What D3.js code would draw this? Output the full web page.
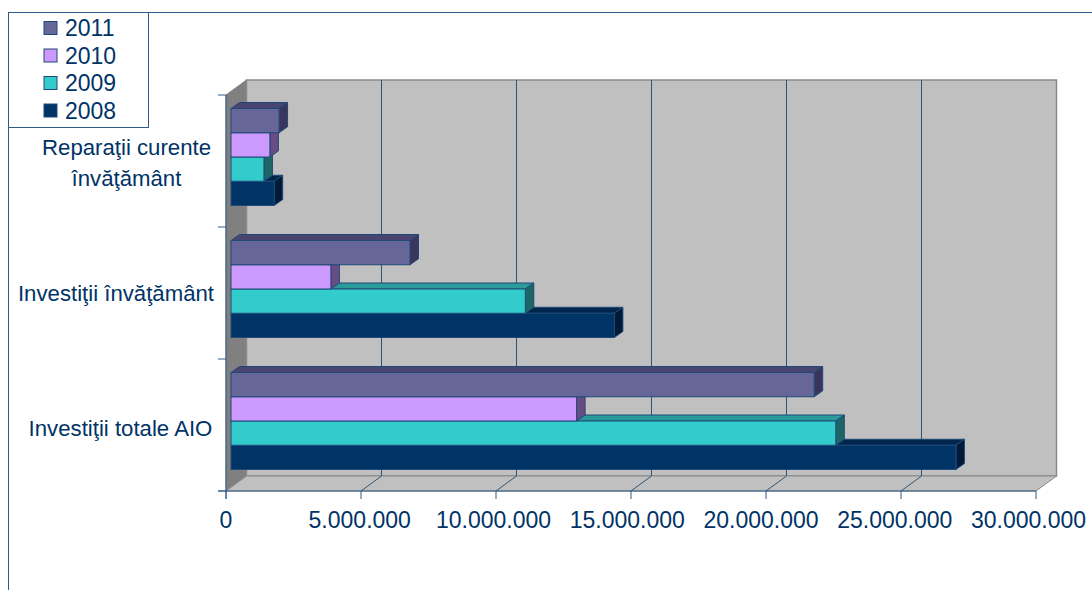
<!DOCTYPE html>
<html>
<head>
<meta charset="utf-8">
<script src="https://cdn.jsdelivr.net/npm/d3@7"></script>
<style>
html,body{margin:0;padding:0;background:#fff}
svg{display:block}
text{font-family:"Liberation Sans",Arial,sans-serif;fill:#003366}
</style>
</head>
<body>
<svg id="c" width="1092" height="590"></svg>
<script>
const categories = ["Reparaţii curente învăţământ", "Investiţii învăţământ", "Investiţii totale AIO"];
const seriesNames = ["2011", "2010", "2009", "2008"];
const seriesColors = ["#666699", "#cc99ff", "#33cccc", "#003366"];
const topColors = ["#4a4470", "#4f4a80", "#2a9a9a", "#00264d"];
const sideColors = ["#39355c", "#6a4c85", "#1d6666", "#001a38"];
const values2011 = [1780000, 6630000, 21600000];
const values2010 = [1440000, 3700000, 12800000];
const values2009 = [1220000, 10900000, 22400000];
const values2008 = [1600000, 14200000, 26850000];
const seriesValues = [values2011, values2010, values2009, values2008];
const xTicks = [0, 5000000, 10000000, 15000000, 20000000, 25000000, 30000000];
const tickLabels = ["0", "5.000.000", "10.000.000", "15.000.000", "20.000.000", "25.000.000", "30.000.000"];
const labelLines = [["Reparaţii curente", "învăţământ"], ["Investiţii învăţământ"], ["Investiţii totale AIO"]];

const svg = d3.select("#c");
const axisColor = "#2f5a86";
const x = d3.scaleLinear().domain([0, 30000000]).range([226, 1036]);
const xLabel = d3.scaleLinear().domain([0, 30000000]).range([226, 1028.5]);
const y = d3.scaleBand().domain(categories).range([95, 491]);
const inner = d3.scaleBand().domain(seriesNames).range([13.5, 110.5]);
const wallDx = 20.5, wallDy = -15;
const barX0 = 5, barDx = 8.5, barDy = -6;
const yTop = y.range()[0], yBottom = y.range()[1];
const poly = pts => pts.map(p => p.join(",")).join(" ");

// frame
svg.append("path").attr("d", "M1092,12.5H8.5V590").attr("fill", "none").attr("stroke", axisColor).attr("stroke-width", 1);

// walls
const x0 = x(0), x1 = x(30000000);
svg.append("polygon").attr("points", poly([[x0, yBottom], [x0 + wallDx, yBottom + wallDy], [x0 + wallDx, yTop + wallDy], [x0, yTop]]))
  .attr("fill", "#808080").attr("stroke", "#808080");
svg.append("polygon").attr("points", poly([[x0 + wallDx, yBottom + wallDy], [x1 + wallDx, yBottom + wallDy], [x1 + wallDx, yTop + wallDy], [x0 + wallDx, yTop + wallDy]]))
  .attr("fill", "#c0c0c0").attr("stroke", "#8a8a8a").attr("stroke-width", 1.5);
svg.append("polygon").attr("points", poly([[x0, yBottom], [x1, yBottom], [x1 + wallDx, yBottom + wallDy], [x0 + wallDx, yBottom + wallDy]]))
  .attr("fill", "#c0c0c0").attr("stroke", "#8a8a8a");

// gridlines on back wall and floor
xTicks.slice(1, -1).forEach(t => {
  const px = x(t);
  svg.append("path").attr("d", `M${px},${yBottom}L${px + wallDx},${yBottom + wallDy}V${yTop + wallDy}`)
    .attr("fill", "none").attr("stroke", "#2f5573").attr("stroke-width", 1);
});

// axes
svg.append("line").attr("x1", x0).attr("x2", x0).attr("y1", yTop).attr("y2", yBottom + 8).attr("stroke", axisColor);
svg.append("line").attr("x1", x0 - 8).attr("x2", x1).attr("y1", yBottom).attr("y2", yBottom).attr("stroke", axisColor);
xTicks.forEach(t => svg.append("line").attr("x1", x(t)).attr("x2", x(t)).attr("y1", yBottom).attr("y2", yBottom + 8).attr("stroke", axisColor));
[...categories.map(c => y(c)), yBottom].forEach(v => svg.append("line").attr("x1", x0 - 8).attr("x2", x0).attr("y1", v).attr("y2", v).attr("stroke", axisColor));

// tick labels
xTicks.forEach((t, i) => svg.append("text").attr("x", xLabel(t)).attr("y", 528).attr("text-anchor", "middle")
  .attr("font-size", 23).text(tickLabels[i]));

// bars: lower series first so upper ones overlap their top faces
categories.forEach((cat, ci) => {
  const g = svg.append("g");
  for (let si = seriesNames.length - 1; si >= 0; si--) {
    const v = seriesValues[si][ci];
    const a = x0 + barX0, b = x(v) + barX0;
    const t = y(cat) + inner(seriesNames[si]), h = inner.bandwidth();
    const stroke = "#1f4a78";
    g.append("polygon").attr("points", poly([[a, t], [b, t], [b + barDx, t + barDy], [a + barDx, t + barDy]]))
      .attr("fill", topColors[si]).attr("stroke", stroke);
    g.append("polygon").attr("points", poly([[b, t], [b + barDx, t + barDy], [b + barDx, t + h + barDy], [b, t + h]]))
      .attr("fill", sideColors[si]).attr("stroke", stroke);
    g.append("rect").attr("x", a).attr("y", t).attr("width", b - a).attr("height", h)
      .attr("fill", seriesColors[si]).attr("stroke", stroke);
  }
});

// category labels
const labelCenters = [126.5, 116, 120.5];
const labelY = [[155, 186], [301], [436]];
categories.forEach((c, i) => labelLines[i].forEach((line, j) =>
  svg.append("text").attr("x", labelCenters[i]).attr("y", labelY[i][j]).attr("text-anchor", "middle")
    .attr("font-size", 22.2).text(line)));

// legend
svg.append("rect").attr("x", 8.5).attr("y", 12.5).attr("width", 140).attr("height", 115).attr("fill", "#fff").attr("stroke", axisColor);
seriesNames.forEach((n, i) => {
  const cy = 28 + i * 27.5;
  svg.append("rect").attr("x", 44).attr("y", cy - 6.5).attr("width", 13).attr("height", 13)
    .attr("fill", seriesColors[i]).attr("stroke", "#1f4a78");
  svg.append("text").attr("x", 65).attr("y", cy + 8).attr("font-size", 23).text(n);
});
</script>
</body>
</html>
